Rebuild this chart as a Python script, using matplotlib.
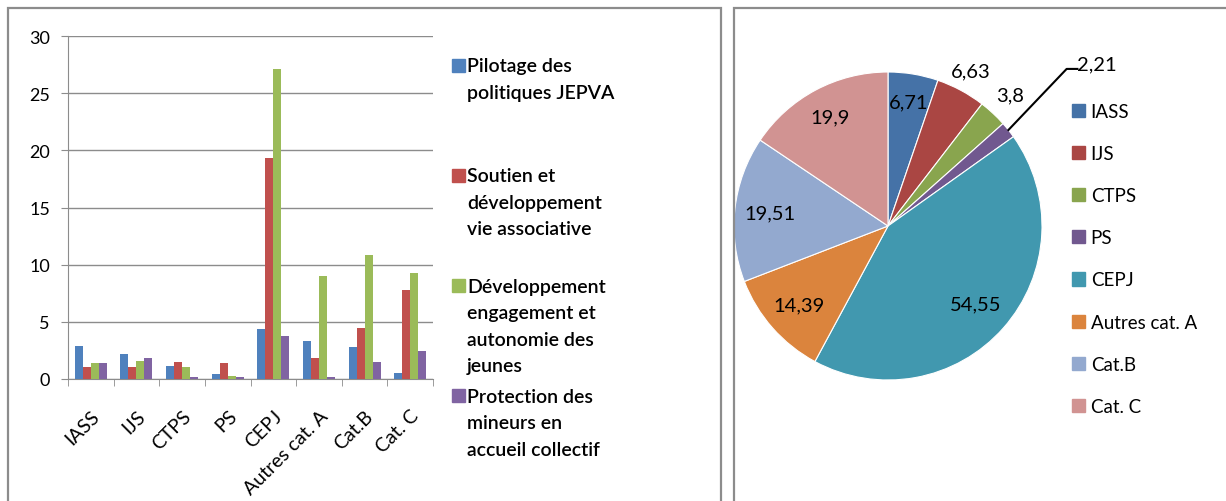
import numpy as np
import matplotlib
matplotlib.use("Agg")
import matplotlib.pyplot as plt
from matplotlib.patches import Rectangle
from matplotlib.transforms import ScaledTranslation

plt.rcParams['font.family'] = ['Lato', 'DejaVu Sans']

# ---------------- data ----------------
categories = ["IASS", "IJS", "CTPS", "PS", "CEPJ", "Autres cat. A", "Cat.B", "Cat. C"]
series_names = ["Pilotage des\npolitiques JEPVA",
                "Soutien et\ndéveloppement\nvie associative",
                "Développement\nengagement et\nautonomie des\njeunes",
                "Protection des\nmineurs en\naccueil collectif"]
pilotage = [2.86, 2.19, 1.17, 0.40, 4.34, 3.32, 2.77, 0.50]
soutien = [1.08, 1.08, 1.52, 1.40, 19.3, 1.87, 4.46, 7.81]
developpement = [1.40, 1.60, 1.08, 0.29, 27.1, 9.04, 10.85, 9.27]
protection = [1.40, 1.87, 0.17, 0.17, 3.76, 0.17, 1.52, 2.42]
bar_colors = ["#4F81BD", "#C0504D", "#9BBB59", "#8064A2"]

pie_labels = ["IASS", "IJS", "CTPS", "PS", "CEPJ", "Autres cat. A", "Cat.B", "Cat. C"]
pie_values = [6.71, 6.63, 3.8, 2.21, 54.55, 14.39, 19.51, 19.9]
pie_colors = ["#4572A7", "#AA4643", "#89A54E", "#71588F", "#4198AF", "#DB843D", "#93A9CF", "#D19392"]

W, H = 1226, 502
fig = plt.figure(figsize=(W / 100, H / 100), dpi=100)

def fx(px):
    return px / W

def fy(py):
    return 1 - py / H

# panel borders
grey = "#8C8C8C"
fig.patches.append(Rectangle((fx(8), fy(520)), fx(721) - fx(8), fy(9) - fy(520),
                             transform=fig.transFigure, fill=False, ec=grey, lw=1.6))
fig.patches.append(Rectangle((fx(734), fy(520)), fx(1240) - fx(734), fy(9) - fy(520),
                             transform=fig.transFigure, fill=False, ec=grey, lw=1.6))

# ---------------- bar chart ----------------
ax = fig.add_axes([fx(68), fy(380), fx(433) - fx(68), fy(37) - fy(380)])
x = np.arange(len(categories))
bw = 0.175
series = [pilotage, soutien, developpement, protection]
for i, (vals, col) in enumerate(zip(series, bar_colors)):
    ax.bar(x + (i - 1.5) * bw, vals, width=bw, color=col, zorder=3)
ax.set_xlim(-0.5, len(categories) - 0.5)
ax.set_ylim(0, 30)
ax.set_yticks([0, 5, 10, 15, 20, 25, 30])
ax.grid(axis='y', color="#8C8C8C", lw=1.0, zorder=0)
for s in ['top', 'right']:
    ax.spines[s].set_visible(False)
ax.spines['left'].set_color("#8C8C8C")
ax.spines['bottom'].set_color("#8C8C8C")
ax.tick_params(axis='y', length=5, color="#8C8C8C", labelsize=13, pad=8)
ax.set_xticks(x)
ax.set_xticklabels(categories, rotation=45, ha='right', rotation_mode='anchor', fontsize=14)
ax.tick_params(axis='x', which='major', length=0, pad=20)
ax.set_xticks(np.arange(-0.5, len(categories)), minor=True)
ax.tick_params(axis='x', which='minor', length=5, color="#8C8C8C")

# bar legend (entries at uniform pitch)
for i, (name, col) in enumerate(zip(series_names, bar_colors)):
    yc = 66 + 110.3 * i
    fig.patches.append(Rectangle((fx(452), fy(yc + 6.5)), fx(13), 13 / H,
                                 transform=fig.transFigure, color=col))
    fig.text(fx(467), fy(yc - 8), name, fontsize=14, va='top', ha='left',
             linespacing=1.68, fontweight='semibold')

# ---------------- pie chart ----------------
cx, cy, r = 888, 227, 154
pax = fig.add_axes([fx(cx - r), fy(cy + r), 2 * r / W, 2 * r / H])
wedges, _ = pax.pie(pie_values, colors=pie_colors, startangle=90, counterclock=False,
                    radius=1, wedgeprops=dict(edgecolor='white', linewidth=0.8))
pax.set_xlim(-1, 1)
pax.set_ylim(-1, 1)
pax.set_aspect('equal')
pax.axis('off')

total = sum(pie_values)
cum = np.cumsum([0] + pie_values[:-1])
mids = 90 - 360 * (cum + np.array(pie_values) / 2) / total
label_r = [0.82, 1.14, 1.16, None, 0.76, 0.77, 0.77, 0.80]
for v, m, lr in zip(pie_values, mids, label_r):
    txt = f"{v:g}".replace('.', ',')
    a = np.deg2rad(m)
    if lr is None:
        x0, y0 = 1.0 * np.cos(a), 1.0 * np.sin(a)
        x1, y1 = 1.16, 1.02
        pax.plot([x0, x1, x1 + 0.07], [y0, y1, y1], color='black', lw=1.5, clip_on=False)
        pax.text(x1 + 0.07, y1 + 0.03, txt, ha='left', va='center', fontsize=14.5, clip_on=False)
    else:
        pax.text(lr * np.cos(a), lr * np.sin(a), txt, ha='center', va='center',
                 fontsize=14.5, clip_on=False)

handles = [Rectangle((0, 0), 1, 1, color=c) for c in pie_colors]
fig.legend(handles, pie_labels, loc='upper left', bbox_to_anchor=(fx(1072), fy(104)),
           frameon=False, fontsize=13.5, handlelength=0.7, handleheight=0.7,
           handletextpad=0.3, labelspacing=1.34, borderaxespad=0, borderpad=0)

fig.savefig("out.png", dpi=100)
